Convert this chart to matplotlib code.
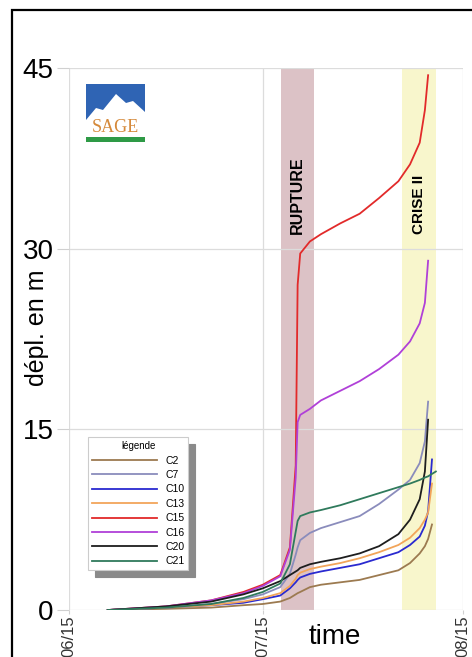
import numpy as np
import matplotlib
matplotlib.use("Agg")
import matplotlib.pyplot as plt
import matplotlib.dates as mdates
from matplotlib.patches import Rectangle, Polygon

plt.rcParams['font.family'] = ['Liberation Sans', 'DejaVu Sans']

# days after 06/15
day_offsets = [6, 15, 22, 27, 30, 32.7, 34.2, 35.1, 35.4, 35.8, 37.3, 39, 42,
               45, 48, 51, 52.8, 54.3, 55.1, 55.6, 56.2, 56.8]
nan = np.nan
c2 = [0, 0.1, 0.2, 0.4, 0.5, 0.7, 1.0, 1.3, 1.4, 1.5, 1.9, 2.1, 2.3,
      2.5, 2.9, 3.3, 3.9, 4.7, 5.3, 5.9, 7.1, nan]
c7 = [0, 0.2, 0.5, 0.9, 1.3, 1.9, 3.0, 4.6, 5.2, 5.8, 6.4, 6.8, 7.3,
      7.8, 8.8, 10.0, 10.8, 12.2, 14.0, 17.3, nan, nan]
c10 = [0, 0.2, 0.4, 0.6, 0.9, 1.2, 1.8, 2.3, 2.5, 2.7, 3.0, 3.2, 3.5,
       3.8, 4.3, 4.8, 5.4, 6.1, 7.0, 8.2, 12.5, nan]
c13 = [0, 0.2, 0.4, 0.7, 1.0, 1.4, 2.0, 2.6, 2.9, 3.1, 3.4, 3.6, 3.9,
       4.3, 4.8, 5.4, 6.0, 6.8, 7.5, 8.1, 10.5, nan]
c15 = [0, 0.3, 0.8, 1.5, 2.1, 2.9, 5.2, 12.0, 27.0, 29.6, 30.6, 31.2, 32.1,
       32.9, 34.2, 35.6, 37.0, 38.8, 41.5, 44.4, nan, nan]
c16 = [0, 0.3, 0.8, 1.4, 2.0, 2.8, 5.0, 11.0, 15.6, 16.2, 16.7, 17.4, 18.2,
       19.0, 20.0, 21.2, 22.3, 23.8, 25.5, 29.0, nan, nan]
c20 = [0, 0.3, 0.7, 1.3, 1.8, 2.4, 2.9, 3.2, 3.3, 3.5, 3.8, 4.0, 4.3,
       4.7, 5.3, 6.3, 7.5, 9.2, 11.5, 15.8, nan, nan]
c21 = [0, 0.2, 0.5, 1.0, 1.5, 2.2, 3.8, 6.5, 7.4, 7.8, 8.1, 8.3, 8.7,
       9.2, 9.7, 10.2, 10.5, 10.8, 11.0, 11.1, 11.3, 11.5]

series = {'C2': c2, 'C7': c7, 'C10': c10, 'C13': c13,
          'C15': c15, 'C16': c16, 'C20': c20, 'C21': c21}
colors = {'C2': '#9c7a50', 'C7': '#8a8cbc', 'C10': '#2a2ad0', 'C13': '#f2a55a',
          'C15': '#e22a2a', 'C16': '#b040d8', 'C20': '#1e1e1e', 'C21': '#2f7a5c'}

base = np.datetime64('2012-06-15T00:00')
times = base + (np.array(day_offsets) * 24 * 60).astype('timedelta64[m]')

rupture = ('2012-07-17T20:00', '2012-07-23T00:00')
crise = ('2012-08-05T14:00', '2012-08-10T20:00')
tick_dates = ['2012-06-15', '2012-07-15', '2012-08-15']

fig = plt.figure(figsize=(4.72, 6.57), dpi=100)
ax = fig.add_axes([0.1462, 0.0715, 0.8347, 0.825])

ax.axvspan(np.datetime64(rupture[0]), np.datetime64(rupture[1]),
           color='#dcc2c6', zorder=0, lw=0)
ax.axvspan(np.datetime64(crise[0]), np.datetime64(crise[1]),
           color='#f8f6cc', zorder=0, lw=0)

for name, vals in series.items():
    ax.plot(times, vals, color=colors[name], lw=1.3, label=name, zorder=3)

ax.set_xlim(np.datetime64(tick_dates[0]), np.datetime64(tick_dates[-1]))
ax.set_ylim(0, 45)
ax.set_yticks([0, 15, 30, 45])
ax.set_xticks([np.datetime64(d) for d in tick_dates])
ax.xaxis.set_major_formatter(mdates.DateFormatter('%m/%d'))
ax.grid(True, color='#dcdcdc', lw=0.9, zorder=1)
ax.set_axisbelow(True)
for s in ax.spines.values():
    s.set_visible(False)
ax.tick_params(axis='y', length=9, color='#d0d0d0', labelsize=20, pad=2)
ax.tick_params(axis='x', length=3, color='#d0d0d0', labelsize=12,
               labelrotation=90, pad=1, labelcolor='#333333')

ax.set_ylabel('dépl. en m', fontsize=18)
ax.yaxis.set_label_coords(-0.052, 0.52)
ax.set_xlabel('time', fontsize=20)
ax.xaxis.set_label_coords(0.675, -0.025)

ax.text(np.datetime64('2012-07-20T10:00'), 31.2, 'RUPTURE', rotation=90,
        ha='center', va='bottom', fontsize=11.5, fontweight='bold', zorder=4)
ax.text(np.datetime64('2012-08-08T05:00'), 31.2, 'CRISE II', rotation=90,
        ha='center', va='bottom', fontsize=11, fontweight='bold', zorder=4)

leg = ax.legend(loc='upper left', bbox_to_anchor=(0.048, 0.319),
                borderaxespad=0, title='légende', fontsize=7.5,
                title_fontsize=7, handlelength=6.2, labelspacing=0.42,
                fancybox=False, edgecolor='#cccccc', framealpha=1,
                shadow={'ox': 5, 'oy': -5, 'color': '#8a8a8a', 'alpha': 1})
leg.get_frame().set_linewidth(0.8)

# SAGE logo
tr = ax.transAxes
def ac(px, py):
    return ((px - 69) / 394, (610 - py) / 542)
ax.add_patch(Rectangle(ac(86, 120), 59 / 394, 36 / 542, transform=tr,
                       color='#2f64b4', zorder=5, lw=0))
mountain = [ac(86, 120), ac(96, 108), ac(103, 110), ac(116, 94), ac(126, 103),
            ac(133, 101), ac(145, 112), ac(145, 120)]
ax.add_patch(Polygon(mountain, closed=True, transform=tr, color='white',
                     zorder=6, lw=0))
ax.add_patch(Rectangle(ac(86, 142), 59 / 394, 5 / 542, transform=tr,
                       color='#2e9a46', zorder=5, lw=0))
x0, y0 = ac(115.5, 127)
ax.text(x0, y0, 'SAGE', transform=tr, ha='center', va='center',
        fontsize=13, family='Liberation Serif', color='#d5893a', zorder=7)

# outer frame
fig.patches.append(Rectangle((12 / 472, -0.5), 2, 0.5 + 1 - 10 / 657,
                             transform=fig.transFigure, fill=False,
                             edgecolor='black', lw=1.6))

fig.savefig('out.png', dpi=100)
